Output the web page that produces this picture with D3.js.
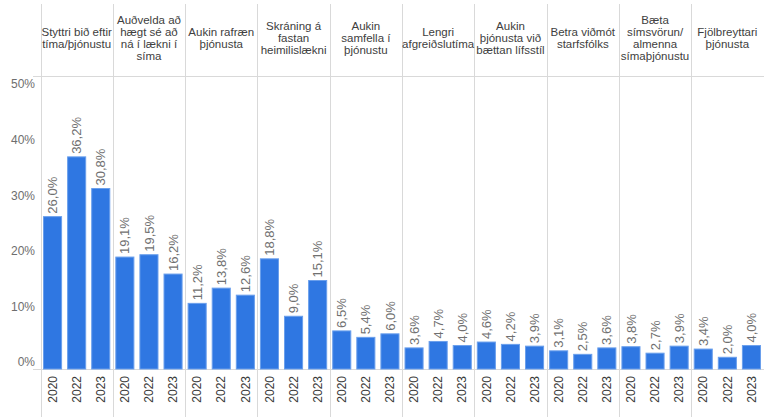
<!DOCTYPE html>
<html>
<head>
<meta charset="utf-8">
<script src="https://cdn.jsdelivr.net/npm/d3@7"></script>
<style>
  body { margin: 0; background: #fff; }
  svg { display: block; font-family: "Liberation Sans", Arial, sans-serif; }
</style>
</head>
<body>
<svg id="chart" width="764" height="417"></svg>
<script>
// categories, split into the header lines as they appear
const categories = [
  ["Styttri bið eftir", "tíma/þjónustu"],
  ["Auðvelda að", "hægt sé að", "ná í lækni í", "síma"],
  ["Aukin rafræn", "þjónusta"],
  ["Skráning á", "fastan", "heimilislækni"],
  ["Aukin", "samfella í", "þjónustu"],
  ["Lengri", "afgreiðslutíma"],
  ["Aukin", "þjónusta við", "bættan lífsstíl"],
  ["Betra viðmót", "starfsfólks"],
  ["Bæta", "símsvörun/", "almenna", "símaþjónustu"],
  ["Fjölbreyttari", "þjónusta"]
];
const years = ["2020", "2022", "2023"];
// percent per category, one entry per year
const values2020 = [26.0, 19.1, 11.2, 18.8, 6.5, 3.6, 4.6, 3.1, 3.8, 3.4];
const values2022 = [36.2, 19.5, 13.8, 9.0, 5.4, 4.7, 4.2, 2.5, 2.7, 2.0];
const values2023 = [30.8, 16.2, 12.6, 15.1, 6.0, 4.0, 3.9, 3.6, 3.9, 4.0];
const yTicks = [0, 10, 20, 30, 40, 50];

const seriesByYear = { "2020": values2020, "2022": values2022, "2023": values2023 };
const keys = categories.map((c, i) => "c" + i);

const svg = d3.select("#chart");
const W = 764, H = 417;
const left = 40.5, right = 763.5, headerBottom = 76, base = 369;

const x0 = d3.scaleBand().domain(keys).range([left, right]).padding(0);
const x1 = d3.scaleBand().domain(years).range([0, x0.bandwidth()])
  .paddingInner(0.25).paddingOuter(0.125);
const y = d3.scaleLinear().domain([0, 50]).range([base, headerBottom]);
// tick labels sit slightly inside the plot band
const yLab = d3.scaleLinear().domain([0, 50]).range([362, 84]);

const fmt = d3.formatLocale({ decimal: ",", thousands: ".", grouping: [3], currency: ["", ""] }).format(".1f");

const grid = "#d9d9d9";

// vertical separators
const seps = keys.map(k => x0(k)).concat([right]);
svg.append("g").selectAll("line").data(seps).join("line")
  .attr("x1", d => Math.round(d) + 0.5).attr("x2", d => Math.round(d) + 0.5)
  .attr("y1", 4).attr("y2", H)
  .attr("stroke", grid).attr("stroke-width", 1);

// header bottom + baseline
svg.append("g").selectAll("line").data([headerBottom, base]).join("line")
  .attr("x1", 33).attr("x2", W)
  .attr("y1", d => d + 0.5).attr("y2", d => d + 0.5)
  .attr("stroke", grid);

// headers
const head = svg.append("g").selectAll("text").data(categories).join("text")
  .attr("text-anchor", "middle")
  .attr("font-size", 11.5)
  .attr("fill", "#404040")
  .attr("transform", (d, i) => `translate(${x0(keys[i]) + x0.bandwidth() / 2},${headerBottom / 2})`);
head.selectAll("tspan").data(d => d.map((t, j) => ({ t, j, n: d.length }))).join("tspan")
  .attr("x", 0)
  .attr("y", d => (d.j - (d.n - 1) / 2) * 11.8)
  .attr("dy", "0.35em")
  .text(d => d.t);

// y axis
const yAxis = svg.append("g")
  .attr("transform", "translate(35,0)")
  .call(d3.axisLeft(yLab).tickValues(yTicks).tickSize(0).tickPadding(0).tickFormat(d => d + "%"));
yAxis.select(".domain").remove();
yAxis.selectAll("text").attr("font-size", 12).attr("fill", "#6e6e6e")
  .attr("font-family", "Liberation Sans, Arial, sans-serif");

// bars
const rows = keys.flatMap((k, i) => years.map(yr => ({ k, yr, v: seriesByYear[yr][i] })));
const groups = svg.append("g");
groups.selectAll("rect").data(rows).join("rect")
  .attr("x", d => x0(d.k) + x1(d.yr))
  .attr("y", d => y(d.v))
  .attr("width", x1.bandwidth())
  .attr("height", d => base - y(d.v))
  .attr("fill", "#2f77e2")
  .attr("stroke", "#6a9fec")
  .attr("stroke-width", 1);

// value labels
groups.selectAll("text.val").data(rows).join("text")
  .attr("class", "val")
  .attr("transform", d => `translate(${x0(d.k) + x1(d.yr) + x1.bandwidth() / 2},${y(d.v) - 3}) rotate(-90)`)
  .attr("dy", "0.35em")
  .attr("font-size", 13)
  .attr("fill", "#707070")
  .text(d => fmt(d.v) + "%");

// year labels
groups.selectAll("text.yr").data(rows).join("text")
  .attr("class", "yr")
  .attr("transform", d => `translate(${x0(d.k) + x1(d.yr) + x1.bandwidth() / 2},${base + 7}) rotate(-90)`)
  .attr("text-anchor", "end")
  .attr("dy", "0.35em")
  .attr("font-size", 12)
  .attr("fill", "#3a3a3a")
  .text(d => d.yr);
</script>
</body>
</html>
